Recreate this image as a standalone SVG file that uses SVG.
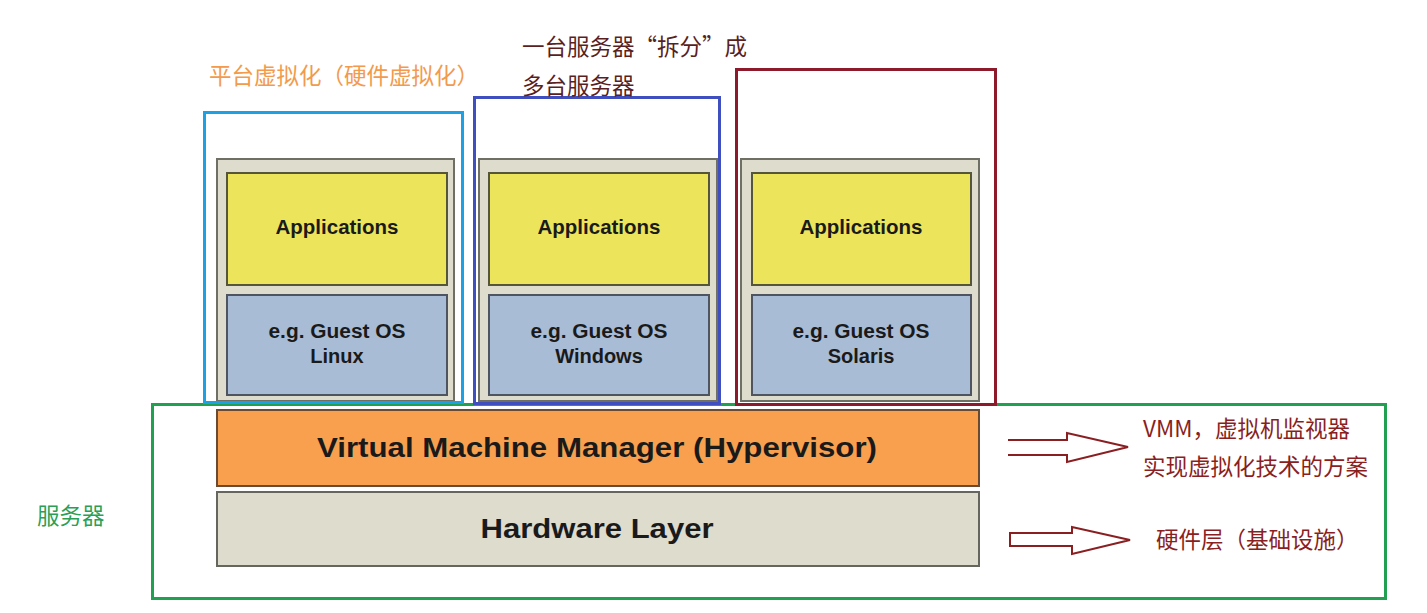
<svg xmlns="http://www.w3.org/2000/svg" width="1427" height="613" viewBox="0 0 1427 613">
<style>
.cont{fill:#dddccd;stroke:#6f6f66;stroke-width:2}
.app{fill:#ece55c;stroke:#55553a;stroke-width:2}
.os{fill:#a9bcd5;stroke:#4f5560;stroke-width:2}
.lbl{font-family:"Liberation Sans",Arial,sans-serif;font-weight:bold;fill:#1a1a1a;text-anchor:middle}
.cn{font-family:"Noto Sans CJK SC","Liberation Sans",sans-serif;font-size:22.5px}
.arr{fill:#fff;stroke:#8a1f22;stroke-width:2}
</style>
<rect width="1427" height="613" fill="#fff"/>
<g id="vm-linux">
<rect class="cont" x="217" y="159" width="237" height="242"/>
<rect class="app" x="227" y="173" width="220" height="112"/>
<text class="lbl" x="337" y="234" font-size="20.5" textLength="123" lengthAdjust="spacingAndGlyphs">Applications</text>
<rect class="os" x="227" y="295" width="220" height="100"/>
<text class="lbl" x="337" y="338" font-size="20" textLength="137" lengthAdjust="spacingAndGlyphs">e.g. Guest OS</text>
<text class="lbl" x="337" y="363" font-size="20">Linux</text>
</g>
<g id="vm-windows">
<rect class="cont" x="479" y="159" width="238" height="242"/>
<rect class="app" x="489" y="173" width="220" height="112"/>
<text class="lbl" x="599" y="234" font-size="20.5" textLength="123" lengthAdjust="spacingAndGlyphs">Applications</text>
<rect class="os" x="489" y="295" width="220" height="100"/>
<text class="lbl" x="599" y="338" font-size="20" textLength="137" lengthAdjust="spacingAndGlyphs">e.g. Guest OS</text>
<text class="lbl" x="599" y="363" font-size="20">Windows</text>
</g>
<g id="vm-solaris">
<rect class="cont" x="741" y="159" width="238" height="242"/>
<rect class="app" x="752" y="173" width="219" height="112"/>
<text class="lbl" x="861" y="234" font-size="20.5" textLength="123" lengthAdjust="spacingAndGlyphs">Applications</text>
<rect class="os" x="752" y="295" width="219" height="100"/>
<text class="lbl" x="861" y="338" font-size="20" textLength="137" lengthAdjust="spacingAndGlyphs">e.g. Guest OS</text>
<text class="lbl" x="861" y="363" font-size="20">Solaris</text>
</g>
<g id="frame-server">
<rect x="152.5" y="404.5" width="1233" height="194" fill="none" stroke="#22a052" stroke-width="3"/>
<text class="cn" x="37" y="524" fill="#2a9f55">服务器</text>
</g>
<g id="vmm">
<rect x="217" y="410" width="762" height="76" fill="#f9a04e" stroke="#6a4a30" stroke-width="2"/>
<text class="lbl" x="597" y="457" font-size="27" textLength="560" lengthAdjust="spacingAndGlyphs">Virtual Machine Manager (Hypervisor)</text>
</g>
<g id="hardware">
<rect x="217" y="492" width="762" height="74" fill="#dddccd" stroke="#66665e" stroke-width="2"/>
<text class="lbl" x="597" y="538" font-size="27" textLength="233" lengthAdjust="spacingAndGlyphs">Hardware Layer</text>
</g>
<g id="frame-platform">
<rect x="204.5" y="112.5" width="258" height="290" fill="none" stroke="#1ea0e4" stroke-width="3"/>
<text class="cn" x="209" y="84" fill="#f39a4c">平台虚拟化（硬件虚拟化）</text>
</g>
<g id="frame-split">
<rect x="474.5" y="97.5" width="245" height="306" fill="none" stroke="#3f4fc0" stroke-width="3"/>
<text class="cn" x="522" y="55" fill="#5a1f1f">一台服务器“拆分”成</text>
<text class="cn" x="522" y="94" fill="#5a1f1f">多台服务器</text>
</g>
<g id="frame-red">
<rect x="736.5" y="69.5" width="259" height="335" fill="none" stroke="#8c1a2a" stroke-width="3"/>
</g>
<g id="connectors">
<path class="arr" d="M1008,440 H1067 V433 L1128,447 L1067,462 V455 H1008"/>
<path class="arr" d="M1010,533 H1072 V527 L1130,540 L1072,554 V546 H1010 Z"/>
</g>
<g id="notes">
<text class="cn" x="1143" y="437" fill="#8a1f22">VMM，虚拟机监视器</text>
<text class="cn" x="1143" y="475" fill="#8a1f22">实现虚拟化技术的方案</text>
<text class="cn" x="1156" y="548" fill="#8a1f22">硬件层（基础设施）</text>
</g>
</svg>
